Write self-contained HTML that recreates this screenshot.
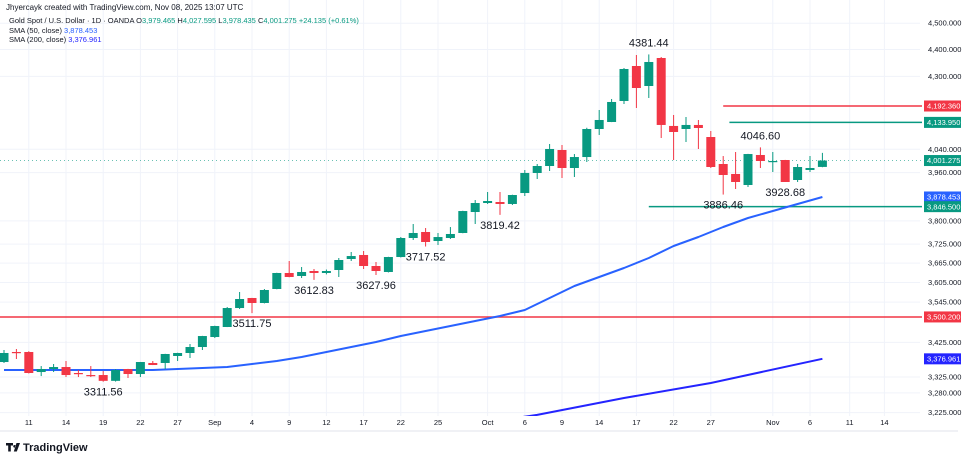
<!DOCTYPE html>
<html><head><meta charset="utf-8"><style>
html,body{margin:0;padding:0;background:#fff;}
svg{display:block;font-family:"Liberation Sans",sans-serif;}
</style></head><body>
<svg id="chart" width="964" height="462" viewBox="0 0 964 462" xmlns="http://www.w3.org/2000/svg">
<defs><clipPath id="plotclip"><rect x="0" y="0" width="922" height="416"/></clipPath></defs>
<rect width="964" height="462" fill="#fff"/>
<g id="grid"></g>
<g id="hlines" clip-path="url(#plotclip)"></g>
<g id="smas" clip-path="url(#plotclip)"></g>
<g id="candles" clip-path="url(#plotclip)"></g>
<g id="annots"></g>
<g id="yaxis"></g>
<g id="xaxis"></g>
<line x1="0" y1="431" x2="958" y2="431" stroke="#e0e3eb" stroke-width="1"/>
<text x="6" y="10" font-size="8" fill="#131722">Jhyercayk created with TradingView.com, Nov 08, 2025 13:07 UTC</text>
<g font-size="7.5">
<text x="9" y="23" fill="#131722">Gold Spot / U.S. Dollar · 1D · OANDA  O<tspan fill="#089981">3,979.465</tspan>  H<tspan fill="#089981">4,027.595</tspan>  L<tspan fill="#089981">3,978.435</tspan>  C<tspan fill="#089981">4,001.275</tspan>  <tspan fill="#089981">+24.135 (+0.61%)</tspan></text>
<text x="9" y="33" fill="#131722">SMA (50, close)  <tspan fill="#2962ff">3,878.453</tspan></text>
<text x="9" y="42" fill="#131722">SMA (200, close)  <tspan fill="#2424ff">3,376.961</tspan></text>
</g>
<g>
<path d="M6 443h7v2.5h-2.2v6h-2.6v-6H6z M14.5 445a1.3 1.3 0 1 0 0.01 0z M16.5 443h3.5l-3.2 8.5h-3z" fill="#131722"/>
<text x="23" y="451" font-size="11" font-weight="bold" fill="#131722">TradingView</text>
</g>
</svg>
<script>
// ---- data ----
var candleOpen  = [3367.8,3396.8,3396.8,3339.1,3347.7,3353.4,3336.3,3330.5,3330.5,3314.0,3347.7,3333.4,3365.0,3365.0,3385.2,3393.9,3411.3,3440.6,3470.2,3527.0,3557.4,3542.2,3584.9,3634.3,3625.0,3640.5,3634.3,3643.6,3678.0,3690.7,3656.1,3637.4,3684.3,3744.7,3764.0,3735.1,3744.7,3760.8,3828.9,3858.5,3861.8,3855.3,3891.6,3958.9,3982.6,4037.5,3975.8,4013.3,4110.7,4135.4,4210.4,4338.3,4264.7,4368.1,4121.4,4110.7,4124.9,4082.6,3989.4,3955.5,3918.4,4020.3,3996.3,4003.1,3935.2,3969.0,3979.465];
var candleHigh  = [3402.6,3405.5,3399.0,3356.2,3362.1,3370.7,3344.8,3356.2,3342.0,3347.7,3348.0,3368.0,3370.7,3391.5,3394.5,3420.1,3444.0,3474.0,3530.0,3575.7,3557.9,3584.9,3635.0,3671.8,3652.9,3646.7,3645.0,3681.2,3700.2,3703.3,3668.6,3685.0,3748.0,3789.8,3776.8,3760.8,3780.0,3833.0,3868.4,3895.0,3895.0,3886.0,3969.0,3989.4,4058.3,4054.8,4023.6,4115.0,4178.1,4217.6,4330.9,4379.3,4381.44,4371.8,4160.3,4153.2,4142.5,4103.7,4016.7,4030.6,4024.0,4046.60,4030.6,4003.5,3989.4,4016.7,4027.595];
var candleLow   = [3365.0,3376.5,3335.0,3327.6,3339.1,3324.8,3324.8,3324.8,3311.56,3311.9,3321.9,3324.8,3359.0,3347.7,3370.7,3379.4,3402.6,3437.6,3470.0,3524.0,3511.75,3541.0,3584.0,3621.0,3618.8,3612.83,3630.0,3621.9,3671.8,3646.7,3627.96,3636.0,3683.0,3738.3,3717.52,3722.4,3741.5,3760.0,3789.8,3855.3,3819.42,3852.0,3881.7,3938.6,3965.6,3941.9,3945.3,3996.3,4089.7,4135.0,4199.6,4185.2,4221.2,4079.1,4003.1,4065.3,4040.9,3975.8,3886.46,3905.0,3911.6,3975.8,3962.2,3928.68,3928.5,3962.2,3978.435];
var candleClose = [3393.9,3393.9,3336.3,3347.7,3353.4,3330.5,3333.4,3327.6,3314.0,3344.8,3333.4,3367.8,3359.2,3391.0,3393.9,3411.3,3443.5,3473.1,3527.0,3554.3,3542.2,3581.8,3634.3,3621.9,3637.4,3634.3,3640.5,3674.9,3687.4,3656.1,3640.5,3684.3,3744.7,3760.8,3731.9,3747.8,3757.6,3832.1,3858.5,3865.1,3855.3,3885.0,3958.9,3982.6,4041.0,3975.8,4013.3,4110.7,4142.5,4206.8,4327.2,4257.4,4353.2,4124.9,4100.2,4124.9,4114.2,3979.2,3952.1,3928.5,4023.6,3999.7,3999.7,3928.5,3979.2,3975.8,4001.275];
var sma50Idx = [0,12,16,18,20,22,24,26,28,30,32,34,36,38,40,42,44,46,48,50,52,54,56,58,60,62,64,66];
var sma50Val = [3344.8,3344.8,3350.5,3353.4,3362.1,3370.7,3382.3,3396.8,3411.3,3426.0,3443.5,3458.4,3473.1,3488.0,3503.0,3521.0,3557.4,3594.0,3621.9,3649.8,3681.2,3719.1,3748.0,3780.0,3809.3,3832.1,3855.3,3878.453];
var sma200Idx = [40,43,50,57,66];
var sma200Val = [3204.0,3218.8,3265.7,3307.8,3376.961];
var tickVals = [4500,4400,4300,4040,3960,3800,3725,3665,3605,3545,3425,3325,3280,3225];
var tickLabels = ["4,500.000","4,400.000","4,300.000","4,040.000","3,960.000","3,800.000","3,725.000","3,665.000","3,605.000","3,545.000","3,425.000","3,325.000","3,280.000","3,225.000"];
var dateIdx = [2,5,8,11,14,17,20,23,26,29,32,35,39,42,45,48,51,54,57,62,65,68.2,71];
var dateLabels = ["11","14","19","22","27","Sep","4","9","12","17","22","25","Oct","6","9","14","17","22","27","Nov","6","11","14"];
var annotIdx = [8,20,25,30,34,40,52,58,61,63];
var annotVal = [3311.56,3511.75,3612.83,3627.96,3717.52,3819.42,4381.44,3886.46,4046.60,3928.68];
var annotSide = ["low","low","low","low","low","low","high","low","high","low"];
var levelVals = [4192.36,4133.95,3846.5,3500.2];
var levelStart = [58,58.5,52,-1];
var levelColors = ["#f23645","#089981","#089981","#f23645"];
var badgeVals = [4192.36,4133.95,4001.275,3878.453,3846.5,3500.2,3376.961];
var badgeColors = ["#f23645","#089981","#089981","#2962ff","#089981","#f23645","#2424ff"];

// ---- scales ----
var NS = "http://www.w3.org/2000/svg";
function yS(v){ return 106 + 1169*Math.log(4192.36/v); }
function xS(i){ return 4 + 12.4*i; }
function mk(tag, attrs, parent){ var e=document.createElementNS(NS,tag); for(var k in attrs) e.setAttribute(k,attrs[k]); parent.appendChild(e); return e; }
function fmt(v){ var s=v.toFixed(3); var p=s.split("."); return p[0].replace(/\B(?=(\d{3})+(?!\d))/g,",")+"."+p[1]; }

var grid=document.getElementById("grid"), candles=document.getElementById("candles"), smas=document.getElementById("smas"), hl=document.getElementById("hlines"), annots=document.getElementById("annots"), yax=document.getElementById("yaxis"), xax=document.getElementById("xaxis");

for (var t=0;t<tickVals.length;t++){
  var yy=yS(tickVals[t]);
  var g=mk("line",{x1:0,x2:920,y1:yy,y2:yy,stroke:"#f0f3fa","stroke-width":1},grid);
  
  
  var tl=mk("text",{x:928,y:yy+2.5,"font-size":"7.5",fill:"#131722"},yax);
  tl.textContent=tickLabels[t];
  
  
}
for (var d=0;d<dateIdx.length;d++){
  var xx=xS(dateIdx[d]);
  var vg=mk("line",{x1:xx,x2:xx,y1:0,y2:416,stroke:"#f0f3fa","stroke-width":1},grid);
  
  
  var dl=mk("text",{x:xx,y:425,"font-size":"7.5",fill:"#131722","text-anchor":"middle"},xax);
  dl.textContent=dateLabels[d];
  
  
}

var lastY=yS(candleClose[candleClose.length-1]);
var dot=mk("line",{x1:0,x2:922,y1:lastY,y2:lastY,stroke:"#089981","stroke-width":1,"stroke-dasharray":"1,3",opacity:0.6},hl);


for (var l=0;l<levelVals.length;l++){
  var ly=yS(levelVals[l]);
  var ln=mk("line",{x1:Math.max(0,xS(levelStart[l])),x2:922,y1:ly,y2:ly,stroke:levelColors[l],"stroke-width":1.5},hl);
  
  
}

function path(idx, vals){ var s=""; for(var i=0;i<idx.length;i++){ s+=(i?"L":"M")+xS(idx[i]).toFixed(1)+" "+yS(vals[i]).toFixed(1); } return s; }
var s50=mk("path",{d:path(sma50Idx,sma50Val),fill:"none",stroke:"#2962ff","stroke-width":2,"stroke-linejoin":"round"},smas);


var s200=mk("path",{d:path(sma200Idx,sma200Val),fill:"none",stroke:"#2424ff","stroke-width":2,"stroke-linejoin":"round"},smas);



for (var i=0;i<candleOpen.length;i++){
  var o=candleOpen[i], c=candleClose[i], up=c>=o, col=up?"#089981":"#f23645";
  var cx=xS(i);
  var w=mk("line",{x1:cx,x2:cx,y1:yS(candleHigh[i]),y2:yS(candleLow[i]),stroke:col,"stroke-width":1},candles);
  
  
  var bodyTop=yS(Math.max(o,c)), bodyBot=yS(Math.min(o,c));
  var b=mk("rect",{x:cx-4.5,y:bodyTop,width:9,height:Math.max(1.2,bodyBot-bodyTop),fill:col},candles);
  
  
}

for (var a=0;a<annotIdx.length;a++){
  var ay=yS(annotVal[a]);
  var at=mk("text",{x:xS(annotIdx[a]),y:annotSide[a]=="high"?ay-8:ay+14,"font-size":"11",fill:"#131722","text-anchor":"middle"},annots);
  at.textContent=annotVal[a].toFixed(2);
  
  
}

for (var bb=0;bb<badgeVals.length;bb++){
  var by=yS(badgeVals[bb]);
  var br=mk("rect",{x:924,y:by-5.5,width:37,height:11,fill:badgeColors[bb]},yax);
  
  
  var bt=mk("text",{x:927,y:by+2.7,"font-size":"7.5",fill:"#fff"},yax);
  bt.textContent=fmt(badgeVals[bb]);
  
  
}
</script>
</body></html>
